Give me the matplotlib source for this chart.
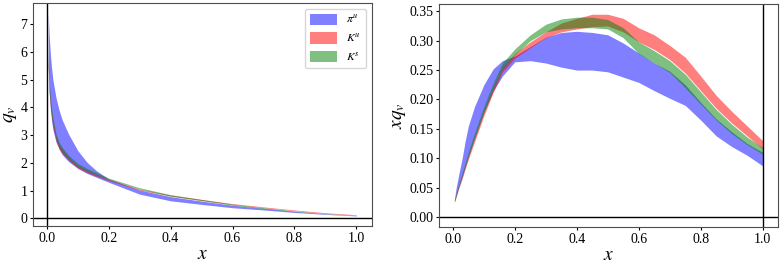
import numpy as np
import matplotlib
matplotlib.use("Agg")
import matplotlib.pyplot as plt

plt.rcParams['font.family'] = ['Liberation Serif', 'DejaVu Serif']
plt.rcParams['mathtext.fontset'] = 'stix'

labels = [r'$\pi^u$', r'$K^u$', r'$K^s$']
colors = ['blue', 'red', 'green']

# ---- left panel: q_v bands
xl = [0.005, 0.008, 0.012, 0.016, 0.02, 0.03, 0.04, 0.05, 0.07, 0.1, 0.13,
      0.16, 0.2, 0.3, 0.4, 0.5, 0.6, 0.7, 0.8, 0.9, 1.0]

qpi_hi = [7.4, 6.6, 5.9, 5.4, 5.0, 4.35, 3.9, 3.55, 3.05, 2.45, 2.02,
          1.72, 1.42, 1.02, 0.78, 0.62, 0.47, 0.36, 0.25, 0.16, 0.1]
qpi_lo = [5.5, 4.6, 3.9, 3.5, 3.2, 2.75, 2.5, 2.3, 2.05, 1.8, 1.62,
          1.48, 1.3, 0.87, 0.63, 0.5, 0.38, 0.3, 0.21, 0.14, 0.085]
qku_hi = [5.7, 4.75, 4.2, 3.8, 3.5, 2.95, 2.65, 2.47, 2.2, 1.9, 1.72,
          1.58, 1.4, 1.05, 0.84, 0.68, 0.53, 0.41, 0.3, 0.2, 0.127]
qku_lo = [5.4, 4.5, 4.0, 3.6, 3.3, 2.8, 2.5, 2.33, 2.1, 1.82, 1.65,
          1.52, 1.36, 1.02, 0.8, 0.64, 0.5, 0.38, 0.27, 0.17, 0.113]
qks_hi = [6.0, 4.9, 4.35, 3.95, 3.62, 3.05, 2.75, 2.56, 2.28, 1.98, 1.8,
          1.65, 1.45, 1.1, 0.85, 0.68, 0.51, 0.38, 0.26, 0.17, 0.115]
qks_lo = [5.5, 4.6, 4.1, 3.7, 3.4, 2.88, 2.57, 2.4, 2.15, 1.87, 1.7,
          1.56, 1.4, 1.05, 0.8, 0.64, 0.47, 0.35, 0.24, 0.16, 0.105]

# ---- right panel: x*q_v bands
xr = [0.005, 0.01, 0.02, 0.03, 0.04, 0.05, 0.07, 0.1, 0.13, 0.16, 0.2, 0.25,
      0.3, 0.35, 0.4, 0.45, 0.5, 0.55, 0.6, 0.65, 0.7, 0.75, 0.8, 0.85,
      0.9, 0.95, 1.0]

pi_hi = [0.03, 0.048, 0.075, 0.1, 0.13, 0.155, 0.188, 0.225, 0.252, 0.266, 0.274, 0.29,
         0.306, 0.314, 0.316, 0.314, 0.31, 0.296, 0.279, 0.262, 0.248, 0.225, 0.195, 0.167,
         0.145, 0.125, 0.11]
pi_lo = [0.026, 0.035, 0.053, 0.069, 0.086, 0.103, 0.134, 0.178, 0.214, 0.24, 0.264, 0.266,
         0.262, 0.255, 0.25, 0.25, 0.247, 0.238, 0.229, 0.215, 0.202, 0.19, 0.165, 0.138,
         0.12, 0.105, 0.087]
ku_hi = [0.028, 0.037, 0.055, 0.071, 0.088, 0.105, 0.136, 0.18, 0.22, 0.254, 0.278, 0.298,
         0.315, 0.33, 0.338, 0.345, 0.345, 0.338, 0.322, 0.31, 0.292, 0.272, 0.24, 0.207,
         0.18, 0.155, 0.13]
ku_lo = [0.025, 0.033, 0.05, 0.065, 0.082, 0.098, 0.128, 0.172, 0.212, 0.247, 0.27, 0.288,
         0.305, 0.315, 0.32, 0.324, 0.325, 0.315, 0.298, 0.285, 0.268, 0.245, 0.215, 0.185,
         0.16, 0.138, 0.116]
ks_hi = [0.029, 0.039, 0.058, 0.075, 0.093, 0.111, 0.143, 0.188, 0.228, 0.262, 0.286, 0.31,
         0.328, 0.337, 0.34, 0.34, 0.336, 0.322, 0.298, 0.283, 0.266, 0.243, 0.213, 0.183,
         0.158, 0.136, 0.118]
ks_lo = [0.026, 0.035, 0.053, 0.069, 0.086, 0.103, 0.134, 0.178, 0.218, 0.252, 0.276, 0.3,
         0.315, 0.32, 0.322, 0.322, 0.32, 0.305, 0.278, 0.262, 0.246, 0.22, 0.192, 0.165,
         0.142, 0.123, 0.107]

left_bands = [(qpi_lo, qpi_hi), (qku_lo, qku_hi), (qks_lo, qks_hi)]
right_bands = [(pi_lo, pi_hi), (ku_lo, ku_hi), (ks_lo, ks_hi)]

fig = plt.figure(figsize=(7.82, 2.65), dpi=100)
ax1 = fig.add_axes([0.042, 0.147, 0.4335, 0.8415])
ax2 = fig.add_axes([0.5614, 0.143, 0.4335, 0.8415])

for (lo, hi), c, lab in zip(left_bands, colors, labels):
    ax1.fill_between(xl, lo, hi, color=c, alpha=0.5, lw=0, label=lab)
for (lo, hi), c in zip(right_bands, colors):
    ax2.fill_between(xr, lo, hi, color=c, alpha=0.5, lw=0)

for ax in (ax1, ax2):
    ax.axhline(0, color='k', lw=1)
    ax.set_xlabel(r'$x$', fontsize=14, labelpad=1)
    ax.tick_params(labelsize=10, length=2.5, pad=1.5)
    for s in ax.spines.values():
        s.set_color('0.3')

ax1.axvline(0, color='k', lw=1)
ax2.axvline(1, color='k', lw=1)

ax1.set_ylabel(r'$q_v$', fontsize=14)
ax2.set_ylabel(r'$xq_v$', fontsize=14)
ax1.yaxis.set_label_coords(-0.041, 0.5)
ax2.yaxis.set_label_coords(-0.091, 0.5)
ax1.set_yticks(range(0, 8))
ax2.set_yticks(np.arange(0, 0.36, 0.05))
ax2.yaxis.set_major_formatter(matplotlib.ticker.FormatStrFormatter('%.2f'))

ax1.legend(loc='upper right', fontsize=8.5, handlelength=2.3, handleheight=1.1)

plt.savefig('out.png', dpi=100)
